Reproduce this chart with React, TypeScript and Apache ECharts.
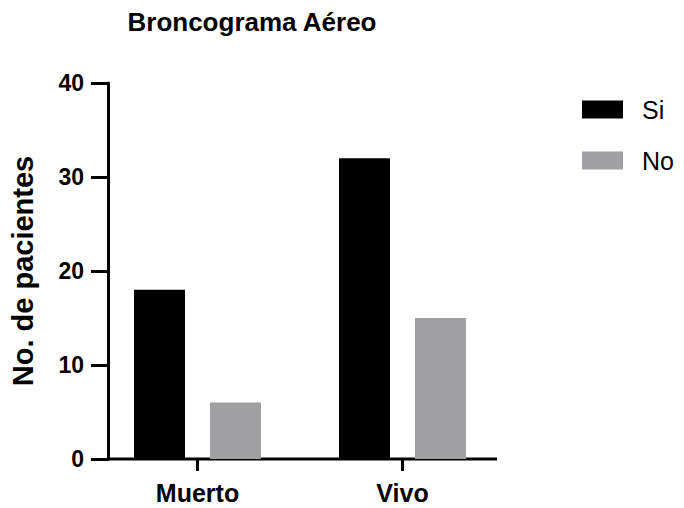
import React, { useEffect, useRef } from "react";
import * as echarts from "echarts";

const categories = ["Muerto", "Vivo"];
const siValues = [18, 32];
const noValues = [6, 15];
const yTicks = [0, 10, 20, 30, 40];

export default function App() {
  const ref = useRef<HTMLDivElement>(null);
  useEffect(() => {
    if (!ref.current) return;
    const chart = echarts.init(ref.current, null, { renderer: "svg" });
    const font = "'Liberation Sans', Arial, sans-serif";
    chart.setOption({
      animation: false,
      textStyle: { fontFamily: font, color: "#000" },
      title: {
        text: "Broncograma Aéreo",
        left: 247,
        top: 4,
        textAlign: "center",
        textStyle: { fontFamily: font, fontSize: 26, fontWeight: "bold", color: "#000" },
      },
      legend: {
        orient: "vertical",
        left: 577,
        top: 92,
        itemWidth: 41,
        itemHeight: 18,
        itemGap: 26,
        icon: "rect",
        textStyle: { fontFamily: font, fontSize: 25, color: "#000", padding: [0, 0, 0, 14] },
        data: ["Si", "No"],
      },
      grid: { left: 95, width: 410, top: 83, height: 376 },
      xAxis: {
        type: "category",
        data: categories,
        axisLine: { show: false },
        axisTick: { show: true, alignWithLabel: true, length: 12, lineStyle: { color: "#000", width: 3 } },
        axisLabel: { fontFamily: font, fontSize: 25, fontWeight: "bold", color: "#000", margin: 21 },
      },
      yAxis: {
        type: "value",
        min: yTicks[0],
        max: yTicks[yTicks.length - 1],
        interval: 10,
        offset: -13,
        name: "No. de pacientes",
        nameLocation: "middle",
        nameGap: 71,
        nameTextStyle: { fontFamily: font, fontSize: 29, fontWeight: "bold", color: "#000" },
        axisLine: { show: true, lineStyle: { color: "#000", width: 3 } },
        axisTick: { show: true, length: 17, lineStyle: { color: "#000", width: 3 } },
        axisLabel: { fontFamily: font, fontSize: 23, fontWeight: "bold", color: "#000", margin: 24 },
        splitLine: { show: false },
      },
      graphic: [
        {
          type: "line",
          shape: { x1: 107, y1: 459, x2: 497, y2: 459 },
          style: { stroke: "#000", lineWidth: 3 },
        },
      ],
      series: [
        {
          name: "Si",
          type: "bar",
          data: siValues,
          barWidth: 51,
          barGap: "49%",
          itemStyle: { color: "#000000" },
        },
        {
          name: "No",
          type: "bar",
          data: noValues,
          barWidth: 51,
          itemStyle: { color: "#a0a0a2" },
        },
      ],
    });
    return () => chart.dispose();
  }, []);
  return (
    <div
      ref={ref}
      style={{ position: "absolute", left: 0, top: 0, width: 684, height: 508 }}
    />
  );
}
